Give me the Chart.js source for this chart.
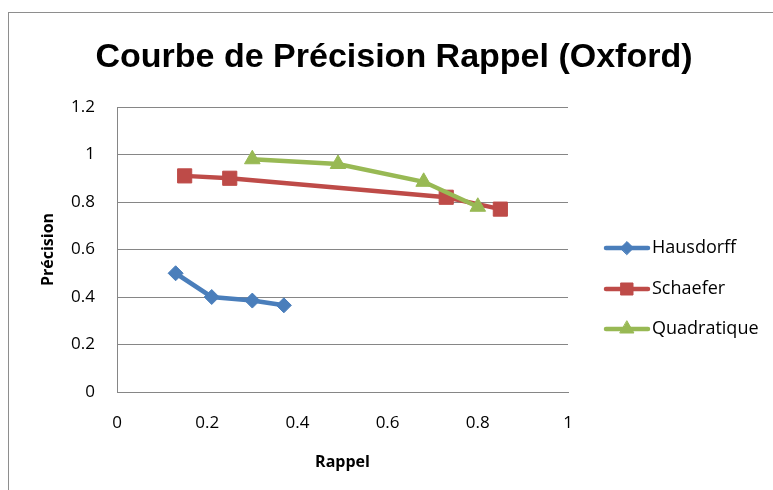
<!DOCTYPE html>
<html>
<head>
<meta charset="utf-8">
<script src="https://cdn.jsdelivr.net/npm/chart.js@4"></script>
<style>
  html, body { margin: 0; padding: 0; background: #fff; overflow: hidden; }
  #wrap { position: relative; width: 773px; height: 490px; overflow: hidden; }
  #frame { position: absolute; left: 8px; top: 12px; width: 820px; height: 520px; border: 1px solid #8e8e8e; }
  #chart { position: absolute; left: 0; top: 0; }
</style>
</head>
<body>
<div id="wrap">
  <div id="frame"></div>
  <canvas id="chart" width="773" height="490"></canvas>
</div>
<script>
'use strict';

const chartTitle = 'Courbe de Précision Rappel (Oxford)';
const seriesNames = ['Hausdorff', 'Schaefer', 'Quadratique'];

// rappel (x) / précision (y) pairs for each method
const hausdorffRecall = [0.13, 0.21, 0.30, 0.37];
const hausdorffPrecision = [0.50, 0.40, 0.385, 0.365];
const schaeferRecall = [0.15, 0.25, 0.73, 0.85];
const schaeferPrecision = [0.91, 0.90, 0.82, 0.77];
const quadRecall = [0.30, 0.49, 0.68, 0.80];
const quadPrecision = [0.98, 0.96, 0.885, 0.78];

const xTicks = [0, 0.2, 0.4, 0.6, 0.8, 1];
const yTicks = [0, 0.2, 0.4, 0.6, 0.8, 1, 1.2];

const colors = ['#4A7EBB', '#BE4B48', '#98B954'];
const markers = ['rectRot', 'rect', 'triangle'];
const markerSize = [7.5, 10, 9];
const legendMarkerSize = [6.5, 8.5, 8];

function toPoints(xs, ys) {
  const pts = [];
  for (let i = 0; i < xs.length; i++) {
    pts.push({ x: xs[i], y: ys[i] });
  }
  return pts;
}

const allSeries = [
  toPoints(hausdorffRecall, hausdorffPrecision),
  toPoints(schaeferRecall, schaeferPrecision),
  toPoints(quadRecall, quadPrecision),
];

const datasets = [];
for (let i = 0; i < allSeries.length; i++) {
  datasets.push({
    label: seriesNames[i],
    data: allSeries[i],
    showLine: true,
    borderColor: colors[i],
    backgroundColor: colors[i],
    borderWidth: 4.5,
    pointStyle: markers[i],
    pointRadius: markerSize[i],
    pointBorderWidth: 1,
    pointBorderColor: colors[i],
    pointBackgroundColor: colors[i],
    tension: 0,
    order: allSeries.length - i,
  });
}

// title and line+marker legend drawn on top of the chart
const decorations = {
  id: 'decorations',
  afterDraw(chart) {
    const ctx = chart.ctx;
    ctx.save();
    ctx.fillStyle = '#000';
    ctx.font = 'bold 34px "Liberation Sans", Arial, sans-serif';
    ctx.textAlign = 'center';
    ctx.textBaseline = 'middle';
    ctx.fillText(chartTitle, 394, 58);

    const legendY = [248, 289, 329];
    ctx.font = '18px "Open Sans", sans-serif';
    ctx.textAlign = 'left';
    for (let i = 0; i < seriesNames.length; i++) {
      const y = legendY[i];
      ctx.strokeStyle = colors[i];
      ctx.lineWidth = 4.5;
      ctx.lineCap = 'round';
      ctx.beginPath();
      ctx.moveTo(606, y);
      ctx.lineTo(648, y);
      ctx.stroke();
      ctx.fillStyle = colors[i];
      ctx.lineWidth = 1;
      Chart.helpers.drawPoint(ctx, {
        pointStyle: markers[i],
        radius: legendMarkerSize[i],
        rotation: 0,
        borderWidth: 1,
      }, 627, y);
      ctx.fillStyle = '#000';
      ctx.fillText(seriesNames[i], 652, y);
    }
    ctx.restore();
  },
};

const tickFont = { family: '"Open Sans", sans-serif', size: 17 };
const titleFont = { family: '"Open Sans", sans-serif', size: 16, weight: 'bold' };

const config = {
  type: 'scatter',
  data: { datasets: datasets },
  options: {
    responsive: false,
    animation: false,
    layout: { padding: { left: 0, right: 205, top: 107, bottom: 0 } },
    plugins: {
      legend: { display: false },
      tooltip: { enabled: false },
      title: { display: false },
    },
    scales: {
      x: {
        type: 'linear',
        min: xTicks[0],
        max: xTicks[xTicks.length - 1],
        afterFit: (s) => { s.height = 98; },
        afterBuildTicks: (s) => { s.ticks = xTicks.map(v => ({ value: v })); },
        ticks: {
          color: '#000',
          font: tickFont,
          padding: 21,
          callback: (v) => String(+v.toFixed(1)),
        },
        grid: { display: false, drawTicks: false },
        border: { display: true, color: '#868686', width: 1 },
        title: {
          display: true,
          text: 'Rappel',
          color: '#000',
          font: titleFont,
          padding: { top: 0, bottom: 18 },
        },
      },
      y: {
        type: 'linear',
        min: yTicks[0],
        max: yTicks[yTicks.length - 1],
        afterFit: (s) => { s.width = 117; },
        afterBuildTicks: (s) => { s.ticks = yTicks.map(v => ({ value: v })); },
        ticks: {
          color: '#000',
          font: tickFont,
          padding: 22,
          callback: (v) => String(+v.toFixed(1)),
        },
        grid: { color: '#868686', lineWidth: 1, drawTicks: false },
        border: { display: true, color: '#868686', width: 1 },
        title: {
          display: true,
          text: 'Précision',
          color: '#000',
          font: titleFont,
          padding: { top: 39, bottom: 0 },
        },
      },
    },
  },
  plugins: [decorations],
};

const myChart = new Chart(document.getElementById('chart'), config);
</script>
</body>
</html>
